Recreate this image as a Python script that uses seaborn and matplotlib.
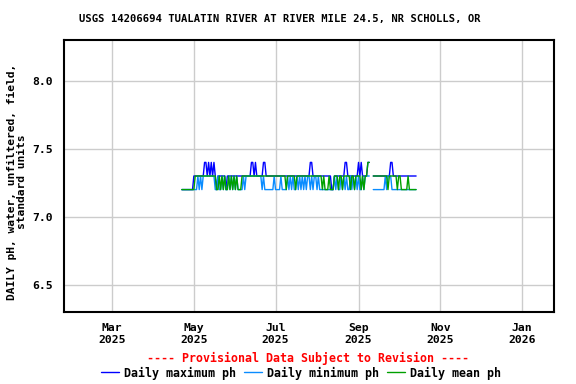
import numpy as np
import pandas as pd
import matplotlib
matplotlib.use("Agg")
import matplotlib.pyplot as plt
from matplotlib.lines import Line2D
import seaborn as sns

nan = np.nan
start_date = "2025-04-22"

ph_max = [
    7.2, 7.2, 7.2, 7.2, 7.2, 7.2, 7.2, 7.2, 7.2, 7.3,
    7.3, 7.3, 7.3, 7.3, 7.3, 7.3, 7.3, 7.4, 7.4, 7.3,
    7.4, 7.3, 7.4, 7.3, 7.4, 7.3, 7.2, 7.3, 7.3, 7.3,
    7.3, 7.3, 7.3, 7.2, 7.3, 7.3, 7.3, 7.3, 7.3, 7.3,
    7.3, 7.3, 7.3, 7.3, 7.3, 7.3, 7.3, 7.3, 7.3, 7.3,
    7.3, 7.3, 7.4, 7.4, 7.3, 7.4, 7.3, 7.3, 7.3, 7.3,
    7.3, 7.4, 7.4, 7.3, 7.3, 7.3, 7.3, 7.3, 7.3, 7.3,
    7.3, 7.3, 7.3, 7.3, 7.3, 7.3, 7.3, 7.3, 7.3, 7.3,
    7.3, 7.3, 7.3, 7.3, 7.3, 7.3, 7.3, 7.3, 7.3, 7.3,
    7.3, 7.3, 7.3, 7.3, 7.3, 7.3, 7.4, 7.4, 7.3, 7.3,
    7.3, 7.3, 7.3, 7.3, 7.3, 7.3, 7.3, 7.3, 7.3, 7.3,
    7.3, 7.3, 7.2, 7.2, 7.3, 7.3, 7.3, 7.3, 7.3, 7.3,
    7.3, 7.3, 7.4, 7.4, 7.3, 7.3, 7.3, 7.3, 7.3, 7.3,
    7.3, 7.3, 7.4, 7.3, 7.4, 7.3, 7.3, 7.3, 7.3, 7.4,
    7.4, nan, nan, 7.3, 7.3, 7.3, 7.3, 7.3, 7.3, 7.3,
    7.3, 7.3, 7.3, 7.3, 7.3, 7.3, 7.4, 7.4, 7.3, 7.3,
    7.3, 7.3, 7.3, 7.3, 7.3, 7.3, 7.3, 7.3, 7.3, 7.3,
    7.3, 7.3, 7.3, 7.3, 7.3, 7.3,
]

ph_min = [
    7.2, 7.2, 7.2, 7.2, 7.2, 7.2, 7.2, 7.2, 7.2, 7.2,
    7.2, 7.2, 7.3, 7.2, 7.3, 7.2, 7.3, 7.3, 7.3, 7.3,
    7.3, 7.3, 7.3, 7.3, 7.3, 7.2, 7.2, 7.3, 7.2, 7.2,
    7.3, 7.2, 7.3, 7.2, 7.2, 7.3, 7.2, 7.3, 7.2, 7.3,
    7.2, 7.3, 7.2, 7.2, 7.2, 7.2, 7.3, 7.2, 7.3, 7.3,
    7.3, 7.3, 7.3, 7.3, 7.3, 7.3, 7.3, 7.3, 7.3, 7.3,
    7.2, 7.3, 7.2, 7.2, 7.2, 7.2, 7.2, 7.2, 7.2, 7.3,
    7.2, 7.2, 7.2, 7.2, 7.3, 7.2, 7.2, 7.2, 7.2, 7.3,
    7.2, 7.3, 7.2, 7.3, 7.2, 7.2, 7.3, 7.2, 7.3, 7.2,
    7.3, 7.2, 7.3, 7.2, 7.3, 7.3, 7.2, 7.3, 7.2, 7.3,
    7.3, 7.2, 7.3, 7.2, 7.2, 7.2, 7.2, 7.2, 7.2, 7.2,
    7.2, 7.2, 7.2, 7.2, 7.3, 7.2, 7.3, 7.2, 7.2, 7.3,
    7.2, 7.3, 7.2, 7.3, 7.2, 7.2, 7.3, 7.2, 7.3, 7.2,
    7.3, 7.2, 7.3, 7.2, 7.2, 7.3, 7.2, 7.3, 7.3, 7.3,
    7.3, nan, nan, 7.2, 7.2, 7.2, 7.2, 7.2, 7.2, 7.2,
    7.2, 7.2, 7.3, 7.2, 7.3, 7.3, 7.3, 7.2, 7.2, 7.2,
    7.2, 7.2, 7.2, 7.2, 7.2, 7.2, 7.2, 7.2, 7.2, 7.2,
    7.2, 7.2, 7.2, 7.2, 7.2, 7.2,
]

ph_mean = [
    7.2, 7.2, 7.2, 7.2, 7.2, 7.2, 7.2, 7.2, 7.2, 7.2,
    7.3, 7.3, 7.3, 7.3, 7.3, 7.3, 7.3, 7.3, 7.3, 7.3,
    7.3, 7.3, 7.3, 7.3, 7.3, 7.3, 7.2, 7.2, 7.3, 7.2,
    7.3, 7.2, 7.3, 7.2, 7.2, 7.3, 7.2, 7.3, 7.2, 7.3,
    7.2, 7.3, 7.2, 7.2, 7.2, 7.3, 7.3, 7.3, 7.3, 7.3,
    7.3, 7.3, 7.3, 7.3, 7.3, 7.3, 7.3, 7.3, 7.3, 7.3,
    7.3, 7.3, 7.3, 7.3, 7.3, 7.3, 7.3, 7.3, 7.3, 7.3,
    7.3, 7.3, 7.3, 7.3, 7.3, 7.3, 7.3, 7.3, 7.2, 7.3,
    7.3, 7.3, 7.3, 7.3, 7.3, 7.2, 7.3, 7.3, 7.3, 7.3,
    7.3, 7.3, 7.3, 7.3, 7.3, 7.3, 7.3, 7.3, 7.3, 7.3,
    7.3, 7.3, 7.3, 7.3, 7.3, 7.2, 7.3, 7.2, 7.2, 7.2,
    7.3, 7.2, 7.2, 7.2, 7.3, 7.3, 7.3, 7.2, 7.3, 7.3,
    7.2, 7.3, 7.3, 7.3, 7.3, 7.3, 7.2, 7.3, 7.3, 7.2,
    7.3, 7.3, 7.3, 7.3, 7.2, 7.3, 7.2, 7.3, 7.3, 7.4,
    7.4, nan, nan, 7.3, 7.3, 7.3, 7.3, 7.3, 7.3, 7.3,
    7.3, 7.3, 7.3, 7.3, 7.2, 7.3, 7.3, 7.3, 7.3, 7.3,
    7.3, 7.2, 7.3, 7.3, 7.2, 7.2, 7.2, 7.2, 7.2, 7.3,
    7.2, 7.2, 7.2, 7.2, 7.2, 7.2,
]

series_names = ["Daily maximum ph", "Daily minimum ph", "Daily mean ph"]
series_colors = ["#0000ff", "#0a8cff", "#00a000"]
x_tick_dates = ["2025-03-01", "2025-05-01", "2025-07-01", "2025-09-01", "2025-11-01", "2026-01-01"]
x_tick_labels = ["Mar\n2025", "May\n2025", "Jul\n2025", "Sep\n2025", "Nov\n2025", "Jan\n2026"]
y_ticks = [6.5, 7.0, 7.5, 8.0]
y_tick_labels = ["6.5", "7.0", "7.5", "8.0"]

dates = pd.date_range(start_date, periods=len(ph_max), freq="D")
frames = []
for name, vals in zip(series_names, [ph_max, ph_min, ph_mean]):
    d = pd.DataFrame({"date": dates, "value": vals})
    d["segment"] = d["value"].isna().cumsum()
    d = d.dropna()
    d["series"] = name
    frames.append(d)
df = pd.concat(frames, ignore_index=True)

sns.set_style("white")
mono = ["DejaVu Sans Mono"]
plt.rcParams["font.family"] = mono
plt.rcParams["font.weight"] = "bold"
plt.rcParams["text.color"] = "black"
plt.rcParams["axes.labelcolor"] = "black"
plt.rcParams["xtick.color"] = "black"
plt.rcParams["ytick.color"] = "black"

fig = plt.figure(figsize=(5.76, 3.84), dpi=100)
ax = fig.add_axes([64 / 576, 1 - 312 / 384, (554 - 64) / 576, (312 - 40) / 384])

for name, col in zip(series_names, series_colors):
    sub = df[df["series"] == name]
    sns.lineplot(data=sub, x="date", y="value", units="segment", estimator=None,
                 color=col, linewidth=1.0, ax=ax, legend=False)

ax.set_xlim(pd.Timestamp("2025-01-24"), pd.Timestamp("2026-01-25"))
ax.set_ylim(6.3, 8.3)
ax.set_xticks(pd.to_datetime(x_tick_dates))
ax.set_xticklabels(x_tick_labels, fontsize=8.2, fontweight="bold", linespacing=1.25, color="black")
ax.set_yticks(y_ticks)
ax.set_yticklabels(y_tick_labels, fontsize=8.2, fontweight="bold", color="black")
ax.tick_params(axis="both", length=0)
ax.tick_params(axis="y", pad=8)
ax.tick_params(axis="x", pad=8)
ax.grid(True, color="#cccccc", linewidth=1.0)
ax.set_axisbelow(True)
for s in ax.spines.values():
    s.set_color("black")
    s.set_linewidth(1.5)
ax.set_xlabel("")
ax.set_ylabel("DAILY pH, water, unfiltered, field,\nstandard units",
              fontsize=8.1, fontweight="bold", linespacing=1.0, color="black")
ax.yaxis.set_label_coords(-0.0755, 0.48)

fig.text(280 / 576, 1 - 19 / 384,
         "USGS 14206694 TUALATIN RIVER AT RIVER MILE 24.5, NR SCHOLLS, OR",
         ha="center", va="center", fontsize=7.6, fontweight="bold", color="black")
fig.text(308 / 576, 1 - 358 / 384, "---- Provisional Data Subject to Revision ----",
         ha="center", va="center", fontsize=8.4, fontweight="bold", color="red")

handles = [Line2D([], [], color=c, linewidth=1.0) for c in series_colors]
leg = fig.legend(handles, series_names, loc="center", bbox_to_anchor=(301 / 576, 1 - 373 / 384),
                 ncol=3, frameon=False, handlelength=1.55, handletextpad=0.43, columnspacing=0.7,
                 prop={"family": mono, "weight": "bold", "size": 8.4}, borderpad=0)
for t in leg.get_texts():
    t.set_color("black")

fig.savefig("out.png", dpi=100)
